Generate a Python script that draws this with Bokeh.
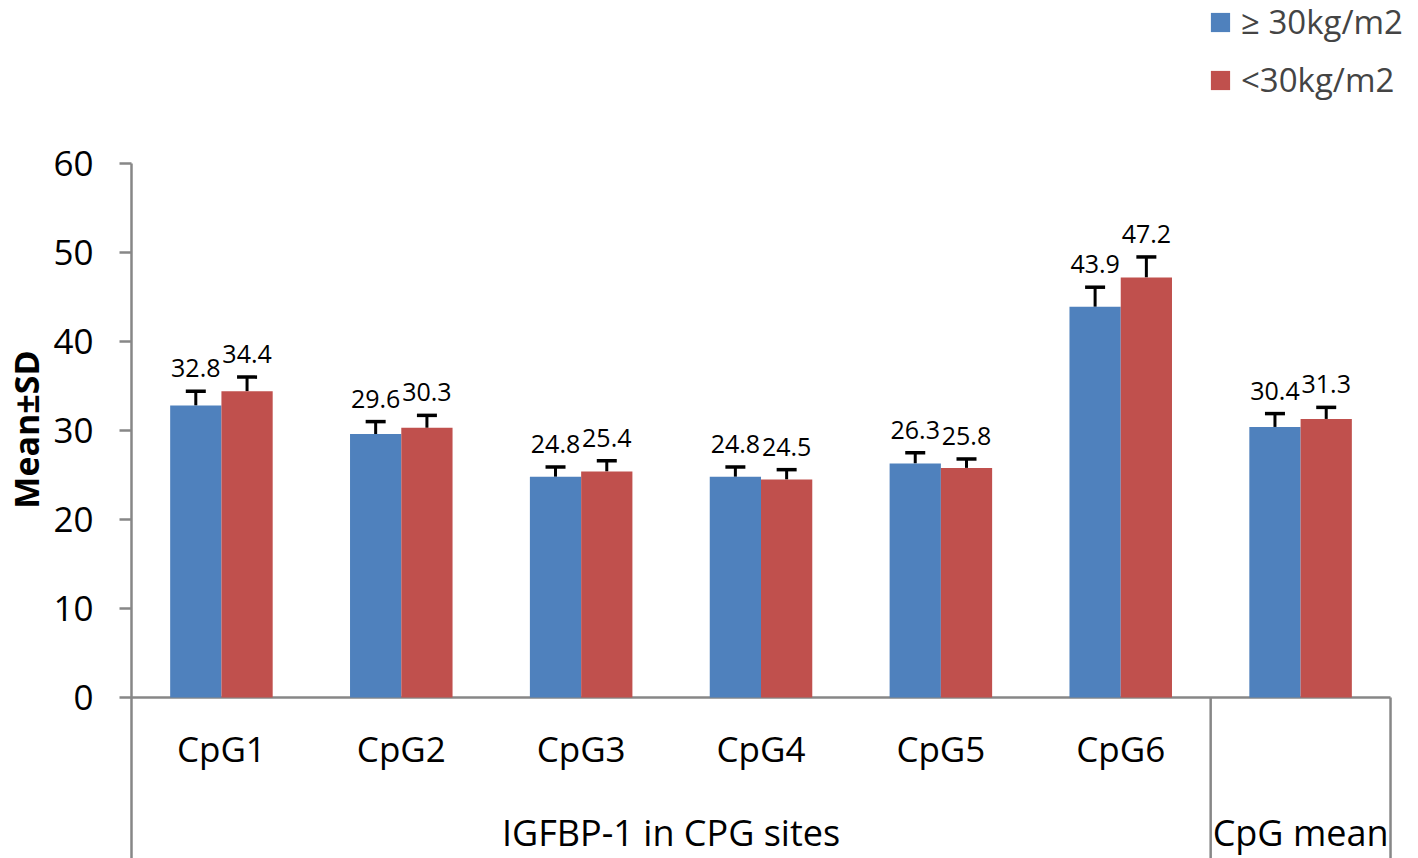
import numpy as np
from bokeh.plotting import figure
from bokeh.models import (Range1d, ColumnDataSource, FixedTicker, Whisker, TeeHead,
                          Legend, LegendItem)
from bokeh.core.properties import value
from bokeh.embed import file_html
from bokeh.resources import INLINE

# ---------------- data ----------------
categories = ["CpG1", "CpG2", "CpG3", "CpG4", "CpG5", "CpG6", "CpG mean"]
category_tick_labels = ["CpG1", "CpG2", "CpG3", "CpG4", "CpG5", "CpG6", ""]
group_names = ["IGFBP-1 in CPG sites", "CpG mean"]
group_sizes = [6, 1]
series_names = ["≥ 30kg/m2", "<30kg/m2"]
mean_high = [32.8, 29.6, 24.8, 24.8, 26.3, 43.9, 30.4]
mean_low = [34.4, 30.3, 25.4, 24.5, 25.8, 47.2, 31.3]
sd_high = [1.6, 1.4, 1.1, 1.1, 1.2, 2.2, 1.5]
sd_low = [1.6, 1.4, 1.2, 1.1, 1.0, 2.3, 1.3]
y_ticks = [0, 10, 20, 30, 40, 50, 60]
y_label = "Mean±SD"

# ---------------- style / layout ----------------
FONT = "Open Sans"
BLUE = "#4F81BD"
RED = "#C0504D"
GRAY = "#878787"
W, H = 1418, 858
Y_TOP_PX, Y_ZERO_PX = 163, 697          # canvas rows of y=60 and y=0
X0_PX = 130                             # canvas column of x=0
PPU = (Y_ZERO_PX - Y_TOP_PX) / 60.0     # pixels per y unit
PPX = 180.0                             # pixels per category
FRAME_LEFT = 127
y_top = 60 + Y_TOP_PX / PPU
y_bot = -(H - Y_ZERO_PX) / PPU
x_start = -(X0_PX - FRAME_LEFT) / PPX
x_end = x_start + (W - FRAME_LEFT) / PPX

p = figure(width=W, height=H, x_range=Range1d(x_start, x_end), y_range=Range1d(y_bot, y_top),
           output_backend="svg", toolbar_location=None, title=None,
           x_axis_location=None, min_border_left=FRAME_LEFT, min_border_top=0,
           min_border_right=0, min_border_bottom=0)
p.outline_line_color = None
p.grid.grid_line_color = None
p.background_fill_color = "white"

# y axis (ticks + labels + title); its line is drawn below only from 60 downwards
ya = p.yaxis[0]
ya.ticker = FixedTicker(ticks=y_ticks)
ya.minor_tick_line_color = None
ya.major_tick_out = 9
ya.major_tick_in = 3
ya.axis_line_color = None
ya.major_tick_line_color = GRAY
ya.major_tick_line_width = 2.5
ya.major_label_text_font = FONT
ya.major_label_text_font_size = "35px"
ya.major_label_text_color = "black"
ya.major_label_standoff = 26
ya.axis_label = y_label
ya.axis_label_text_font = FONT
ya.axis_label_text_font_style = "bold"
ya.axis_label_text_font_size = "34px"
ya.axis_label_text_color = "black"
ya.axis_label_standoff = 1

# axis lines and category separators
n = len(categories)
bounds = np.cumsum(group_sizes)
p.segment(x0=[0], y0=[y_ticks[-1]], x1=[0], y1=[y_bot], line_color=GRAY, line_width=2.5)
p.segment(x0=[0], y0=[0], x1=[n], y1=[0], line_color=GRAY, line_width=2.5)
p.segment(x0=bounds, y0=[0] * len(bounds), x1=bounds, y1=[y_bot] * len(bounds),
          line_color=GRAY, line_width=2.5)

# bars
idx = np.arange(n)
half = 0.1425
bw = 0.285
src_h = ColumnDataSource(dict(x=idx + 0.5 - half, top=mean_high,
                              upper=np.array(mean_high) + np.array(sd_high),
                              lab=[f"{v:.1f}" for v in mean_high]))
src_l = ColumnDataSource(dict(x=idx + 0.5 + half, top=mean_low,
                              upper=np.array(mean_low) + np.array(sd_low),
                              lab=[f"{v:.1f}" for v in mean_low]))

r_h = p.vbar(x="x", top="top", bottom=0, width=bw, source=src_h, fill_color=BLUE, line_color=None)
r_l = p.vbar(x="x", top="top", bottom=0, width=bw, source=src_l, fill_color=RED, line_color=None)

label_gap = 23 / PPU
for src in (src_h, src_l):
    w = Whisker(source=src, base="x", lower="top", upper="upper", dimension="height",
                line_color="black", line_width=3,
                upper_head=TeeHead(size=20, line_color="black", line_width=3.5), lower_head=None)
    p.add_layout(w)
    src.data["ylab"] = np.array(src.data["upper"]) + label_gap
    p.text(x="x", y="ylab", text="lab", source=src, text_align="center",
           text_baseline="middle", text_font=value(FONT), text_font_size="25px",
           text_color="black")

# category labels (first level)
y_cat = -(748 - Y_ZERO_PX) / PPU
p.text(x=idx + 0.5, y=[y_cat] * n, text=category_tick_labels, text_align="center",
       text_baseline="middle", text_font=value(FONT), text_font_size="35px", text_color="black")

# group labels (second level)
starts = np.concatenate([[0], bounds[:-1]])
gx = (starts + bounds) / 2.0
y_grp = -(832 - Y_ZERO_PX) / PPU
p.text(x=gx, y=[y_grp] * len(gx), text=group_names, text_align="center",
       text_baseline="middle", text_font=value(FONT), text_font_size="36px", text_color="black")

# legend
legend = Legend(items=[LegendItem(label=series_names[0], renderers=[r_h]),
                       LegendItem(label=series_names[1], renderers=[r_l])],
                location=(1207 - FRAME_LEFT, 756), orientation="vertical",
                glyph_width=24, glyph_height=24,
                label_text_font=FONT, label_text_font_size="33px", label_standoff=9,
                spacing=13, padding=0, margin=0, border_line_color=None,
                background_fill_alpha=0)
p.add_layout(legend)

open("out.html", "w").write(file_html(p, INLINE))
